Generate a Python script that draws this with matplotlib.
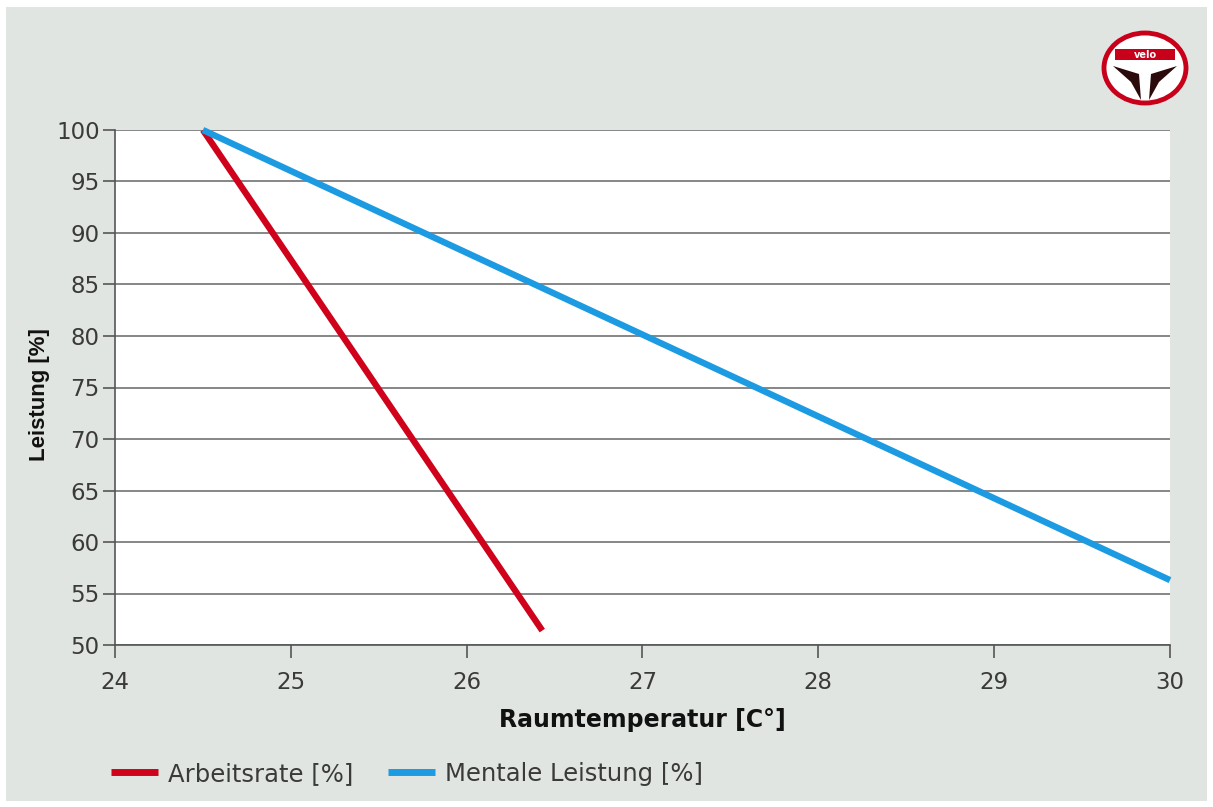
import matplotlib
matplotlib.use("Agg")
import matplotlib.pyplot as plt
from matplotlib.patches import Rectangle, Ellipse, Polygon

# Data
x_ticks = [24, 25, 26, 27, 28, 29, 30]
y_ticks = [50, 55, 60, 65, 70, 75, 80, 85, 90, 95, 100]
arbeitsrate_x = [24.5, 26.43]
arbeitsrate_y = [100, 51.4]
mental_x = [24.5, 30.0]
mental_y = [100, 56.3]
series_labels = ["Arbeitsrate [%]", "Mentale Leistung [%]"]
x_label = "Raumtemperatur [C°]"
y_label = "Leistung [%]"

RED = "#d0021b"
BLUE = "#1c9be2"
BG = "#e1e5e1"
TXT = "#3a3a3a"

W, H = 1213, 807
fig = plt.figure(figsize=(W / 100, H / 100), dpi=100, facecolor="white")

# grey background panel
fig.patches.append(Rectangle((6 / W, 1 - 801 / H), (1207 - 6) / W, (801 - 7) / H,
                             transform=fig.transFigure, facecolor=BG, edgecolor="none", zorder=-10))

left, right, top, bottom = 115, 1170, 130, 645
ax = fig.add_axes([left / W, 1 - bottom / H, (right - left) / W, (bottom - top) / H])
ax.set_facecolor("white")
ax.set_xlim(24, 30)
ax.set_ylim(50, 100)
ax.set_xticks(x_ticks)
ax.set_yticks(y_ticks)
for s in ["top", "right"]:
    ax.spines[s].set_visible(False)
for s in ["left", "bottom"]:
    ax.spines[s].set_color("#555555")
    ax.spines[s].set_linewidth(1.2)
ax.tick_params(axis="both", direction="out", length=9, width=1.2, color="#555555",
               labelsize=16.5, labelcolor=TXT)
ax.tick_params(axis="y", pad=2)
ax.tick_params(axis="x", pad=10)
for lab in ax.get_xticklabels() + ax.get_yticklabels():
    lab.set_family(["DejaVu Sans"])
ax.grid(axis="y", color="#666666", linewidth=1.1)
ax.set_axisbelow(True)

ax.plot(arbeitsrate_x, arbeitsrate_y, color=RED, linewidth=4.6, solid_capstyle="butt",
        label=series_labels[0], zorder=3)
ax.plot(mental_x, mental_y, color=BLUE, linewidth=4.6, solid_capstyle="butt",
        label=series_labels[1], zorder=4, clip_on=False)

fig.text((left + right) / 2 / W, 1 - 720 / H, x_label, ha="center", va="center",
         fontsize=17, fontweight="bold", family=["DejaVu Sans"], color="#111111")
fig.text(40 / W, 1 - 395 / H, y_label, ha="center", va="center", rotation=90,
         fontsize=16, fontweight="bold", family=["Liberation Sans", "DejaVu Sans"], color="#111111")

leg = fig.legend(loc="center left", bbox_to_anchor=(89 / W, 1 - 774 / H), ncol=2,
                 frameon=False, handlelength=1.93, handletextpad=0.4,
                 columnspacing=1.45, prop={"family": ["DejaVu Sans"], "size": 17.5})
for t in leg.get_texts():
    t.set_color(TXT)
for l in leg.get_lines():
    l.set_linewidth(5)

# logo
lax = fig.add_axes([1100 / W, 1 - 106 / H, 90 / W, 76 / H])
lax.set_xlim(-45, 45)
lax.set_ylim(-38, 38)
lax.axis("off")
lax.add_patch(Ellipse((0, 0), 82, 70, facecolor="white", edgecolor="#c8001a", linewidth=3.5))
lax.add_patch(Rectangle((-30, 8), 60, 11, facecolor="#c8001a", edgecolor="none"))
lax.text(0, 13.5, "velo", ha="center", va="center", fontsize=7, fontweight="bold",
         color="white", family="DejaVu Sans")
lax.add_patch(Polygon([(-32, 2), (-6, -6), (-4, -32), (-14, -14)], closed=True,
                      facecolor="#2a0a0a", edgecolor="none"))
lax.add_patch(Polygon([(32, 2), (6, -6), (4, -32), (14, -14)], closed=True,
                      facecolor="#2a0a0a", edgecolor="none"))
lax.add_patch(Polygon([(-34, 4), (34, 4), (8, -6), (5, -33), (-5, -33), (-8, -6)], closed=True,
                      facecolor="#c8001a", edgecolor="none", zorder=0))

fig.savefig("out.png", dpi=100, facecolor="white")
